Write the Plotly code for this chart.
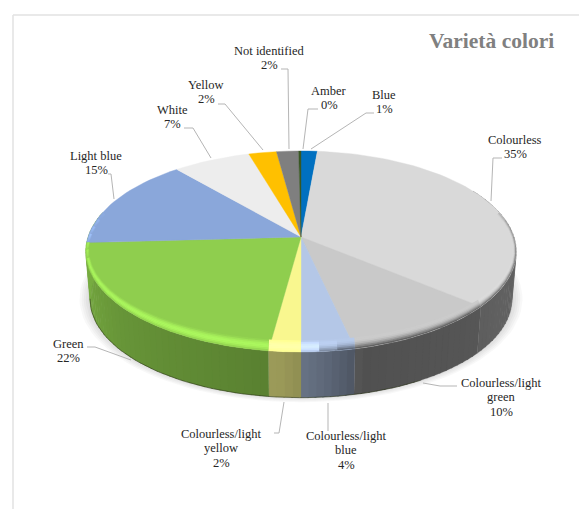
import numpy as np
import plotly.graph_objects as go

# ---- data -----------------------------------------------------------------
categories = ["Blue", "Colourless", "Colourless/light<br>green", "Colourless/light<br>blue",
              "Colourless/light<br>yellow", "Green", "Light blue", "White", "Yellow",
              "Not identified", "Amber"]
values = [1.4, 34.7, 10.4, 3.5, 2.1, 22.0, 14.7, 6.7, 2.4, 1.9, 0.2]
percent_labels = ["1%", "35%", "10%", "4%", "2%", "22%", "15%", "7%", "2%", "2%", "0%"]
colors = ["#0070c0", "#d9d9d9", "#c9c9c9", "#b4c7e7", "#f9f78f", "#8fce4e",
          "#8aa7da", "#ededed", "#ffc000", "#7f7f7f", "#385723"]
title_text = "Varietà colori"

# ---- layout of the drawing (pixel space of the 579x509 picture) -------------
CX, CY = 301.0, 237.0
RX, RY, PERSP = 213.0, 98.4, 0.144
DEPTH, BOTTOM_SCALE = 48.0, 0.98
WALL_END = 285
label_pos = [(384, 102), (515, 147), (501, 397), (346, 450), (221, 448), (68, 351),
             (96, 163), (172, 117), (206, 92), (269, 58), (329, 98)]
leaders = [[(374, 113), (366, 113), (311, 149)],
           [(502, 158), (493, 158), (491, 201)],
           [(457, 386), (440, 386), (423, 383)],
           [(328, 403), (328, 431)],
           [(284, 402), (279, 433), (274, 433)],
           [(87, 347), (95, 347), (131, 360)],
           [(108, 174), (111, 174), (114, 199)],
           [(184, 128), (193, 128), (211, 158)],
           [(218, 104), (225, 104), (263, 150)],
           [(281, 69), (288, 69), (289, 149)],
           [(318, 109), (308, 109), (303, 149)]]
LINE_PITCH = 14.5


def project(theta_deg, sx=1.0, sy=1.0, dy=0.0, scale=1.0):
    t = np.radians(theta_deg)
    X, Y = np.sin(t) * sx, -np.cos(t) * sy
    w = 1 - PERSP * (-np.cos(t))
    return CX + scale * RX * X / w, CY + dy + scale * RY * Y / w


def rgb(h):
    return np.array([int(h[i:i + 2], 16) for i in (1, 3, 5)], dtype=float)


def css(c):
    c = np.clip(c, 0, 255)
    return f"rgb({c[0]:.0f},{c[1]:.0f},{c[2]:.0f})"


def wall_shade(th):
    return np.interp(th, [60, 95, 130, 165, 175, 185, 230, 265, 300],
                     [.50, .47, .43, .40, .53, .62, .72, .84, .84])


fig = go.Figure()


def poly(xs, ys, fill, outline=0.0):
    fig.add_trace(go.Scatter(x=np.r_[xs, xs[0]], y=np.r_[ys, ys[0]], mode="lines", fill="toself",
                             fillcolor=fill, line=dict(color=fill, width=outline), hoverinfo="skip",
                             showlegend=False))


edges = np.r_[0, np.cumsum(values)] / sum(values) * 360
green = categories.index("Green")

# soft shadow under the pie
full = np.linspace(0, 360, 121)
for k in (1.05, 1.04, 1.03, 1.02, 1.01):
    xs, ys = project(full, dy=DEPTH + 2, scale=BOTTOM_SCALE * k)
    poly(xs, ys - 3, "rgba(90,90,90,0.045)")

# side wall, front half only (each strip overlaps the next to avoid seams)
for i, c in enumerate(colors):
    if i > green:
        continue
    a = max(edges[i], 60)
    b = WALL_END if i == green else min(edges[i + 1], WALL_END)
    if b <= a:
        continue
    n = int(np.ceil((b - a) / 2))
    bins = np.linspace(a, b, n + 1)
    for t0, t1 in zip(bins[:-1], bins[1:]):
        arc = np.linspace(t0, min(t1 + 0.4, b), 3)
        xt, yt = project(arc)
        xb, yb = project(arc[::-1], dy=DEPTH, scale=BOTTOM_SCALE)
        poly(np.r_[xt, xb], np.r_[yt, yb], css(rgb(c) * wall_shade((t0 + t1) / 2)), 0.2)

# darker lower edge of the wall
arc = np.linspace(150, 262, 60)
xb, yb = project(arc, dy=DEPTH, scale=BOTTOM_SCALE)
fig.add_trace(go.Scatter(x=xb, y=yb, mode="lines", line=dict(color="rgba(40,50,20,0.55)", width=1),
                         hoverinfo="skip", showlegend=False))

# top face
for i, c in enumerate(colors):
    arc = np.linspace(edges[i], edges[i + 1], max(3, int((edges[i + 1] - edges[i]) / 2)))
    xa, ya = project(arc)
    poly(np.r_[CX, xa], np.r_[CY, ya], css(rgb(c)), 0.4)

# bevelled rim along the front edge
N_RING = 7
ring = lambda u: (1 - 0.016 * (1 - u), 1 - 0.10 * (1 - u))
for i, c in enumerate(colors):
    a, b = max(edges[i], 75), min(edges[i + 1], 285)
    if b <= a:
        continue
    base = rgb(c)
    n = int(np.ceil((b - a) / 5))
    bins = np.linspace(a, b, n + 1)
    for t0, t1 in zip(bins[:-1], bins[1:]):
        th = (t0 + t1) / 2
        front = np.interp(th, [75, 110, 270, 285], [0, 1, 1, 0])
        dark = np.interp(th, [75, 100, 172, 178], [0.6, 1, 1, 0])
        arc = np.linspace(t0, min(t1 + 0.6, b), 3)
        for j in range(N_RING):
            u0, u1 = j / N_RING, (j + 1) / N_RING
            xo, yo = project(arc, *ring(min(u1 + 0.05, 1)))
            xi, yi = project(arc[::-1], *ring(u0))
            u = (u0 + u1) / 2
            lift = 0.2 * (1 - 0.7 * dark)
            col = base * (1 + lift * front * np.sin(np.pi * u ** 1.1))
            wall = base * wall_shade(th)
            col = col + (wall - col) * dark * u ** 2.2
            poly(np.r_[xo, xi], np.r_[yo, yi], css(col))

# leader lines
for pts in leaders:
    fig.add_trace(go.Scatter(x=[p[0] for p in pts], y=[p[1] for p in pts], mode="lines",
                             line=dict(color="#b5b5b5", width=1), hoverinfo="skip", showlegend=False))

# labels, one annotation per line for the tight line pitch of the reference
annos = []
for name, pct, (lx, ly) in zip(categories, percent_labels, label_pos):
    lines = name.split("<br>") + [pct]
    for k, line in enumerate(lines):
        annos.append(dict(x=lx, y=ly + (k - (len(lines) - 1) / 2) * LINE_PITCH, xref="x", yref="y",
                          text=line, showarrow=False, xanchor="center", yanchor="middle",
                          font=dict(family="Liberation Serif", size=12.5, color="#262626")))
annos.append(dict(x=556, y=41, xref="x", yref="y", text=f"<b>{title_text}</b>", showarrow=False,
                  xanchor="right", yanchor="middle",
                  font=dict(family="Liberation Serif", size=21.5, color="#808080")))

frame = dict(type="line", xref="x", yref="y", line=dict(color="#e2e2e2", width=1.5))
fig.update_layout(
    width=579, height=509, autosize=False,
    margin=dict(l=0, r=0, t=0, b=0), paper_bgcolor="white", plot_bgcolor="white",
    xaxis=dict(range=[0, 579], visible=False, fixedrange=True),
    yaxis=dict(range=[509, 0], visible=False, fixedrange=True),
    annotations=annos, showlegend=False,
    shapes=[dict(frame, x0=13, y0=15, x1=579, y1=15), dict(frame, x0=13, y0=15, x1=13, y1=509)],
)
fig.write_html("out.html", config=dict(displayModeBar=False),
               post_script="document.body.style.margin='0';document.body.style.overflow='hidden';")
